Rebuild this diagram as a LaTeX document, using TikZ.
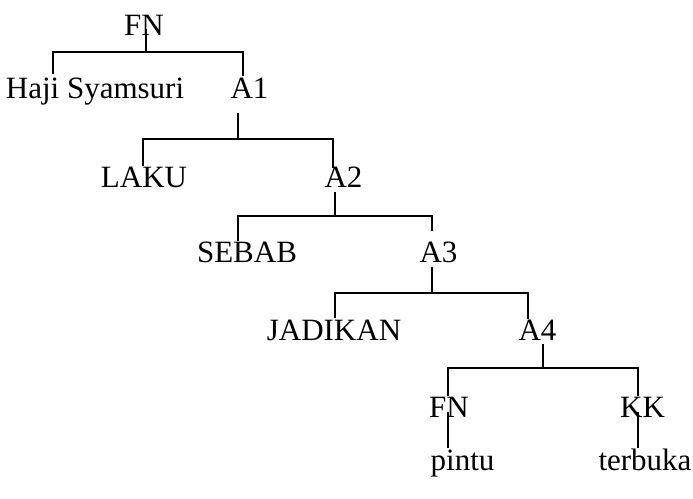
\documentclass[tikz,border=0pt]{standalone}
\usepackage{fontspec}
\setmainfont{Liberation Serif}
\begin{document}
\begin{tikzpicture}[x=1pt,y=-1pt,
  lbl/.style={anchor=base,inner sep=0pt,font=\fontsize{31}{37}\selectfont},
  edge/.style={line width=1.8pt,line cap=rect}]
\useasboundingbox (0,0) rectangle (693,498);
% labels
\node[lbl] (FN0) at (144,35) {FN};
\node[lbl] (Haji) at (95,98) {Haji Syamsuri};
\node[lbl] (A1) at (249.5,98) {A1};
\node[lbl] (LAKU) at (144,187) {LAKU};
\node[lbl] (A2) at (343.5,187) {A2};
\node[lbl] (SEBAB) at (247,262) {SEBAB};
\node[lbl] (A3) at (438.5,262) {A3};
\node[lbl] (JADIKAN) at (334,340) {JADIKAN};
\node[lbl] (A4) at (537.5,340) {A4};
\node[lbl] (FN1) at (449,417) {FN};
\node[lbl] (KK) at (642.5,417) {KK};
\node[lbl] (pintu) at (462.5,470) {pintu};
\node[lbl] (terbuka) at (645,470) {terbuka};
% connector end points
\coordinate (FN0d) at (146,30);  \coordinate (FN0b) at (146,52);
\coordinate (Hajiu) at (53,73);  \coordinate (A1u) at (243,75);
\coordinate (A1d) at (238,114);  \coordinate (A1b) at (238,139);
\coordinate (LAKUu) at (143,165); \coordinate (A2u) at (333,167);
\coordinate (A2d) at (335,193);  \coordinate (A2b) at (335,216);
\coordinate (SEBABu) at (238,240); \coordinate (A3u) at (432,230);
\coordinate (A3d) at (432,268);  \coordinate (A3b) at (432,293);
\coordinate (JADIKANu) at (335,317); \coordinate (A4u) at (528,318);
\coordinate (A4d) at (543,345);  \coordinate (A4b) at (543,368);
\coordinate (FN1u) at (448,395); \coordinate (KKu) at (638,395);
\coordinate (FN1d) at (448,413); \coordinate (pintuu) at (448,447);
\coordinate (KKd) at (638,413);  \coordinate (terbukau) at (638,447);
% connectors
\draw[edge] (FN0d) -- (FN0b);
\draw[edge] (Hajiu) -- (Hajiu |- FN0b) -- (A1u |- FN0b) -- (A1u);
\draw[edge] (A1d) -- (A1b);
\draw[edge] (LAKUu) -- (LAKUu |- A1b) -- (A2u |- A1b) -- (A2u);
\draw[edge] (A2d) -- (A2b);
\draw[edge] (SEBABu) -- (SEBABu |- A2b) -- (A3u |- A2b) -- (A3u);
\draw[edge] (A3d) -- (A3b);
\draw[edge] (JADIKANu) -- (JADIKANu |- A3b) -- (A4u |- A3b) -- (A4u);
\draw[edge] (A4d) -- (A4b);
\draw[edge] (FN1u) -- (FN1u |- A4b) -- (KKu |- A4b) -- (KKu);
\draw[edge] (FN1d) -- (pintuu);
\draw[edge] (KKd) -- (terbukau);
\end{tikzpicture}
\end{document}
